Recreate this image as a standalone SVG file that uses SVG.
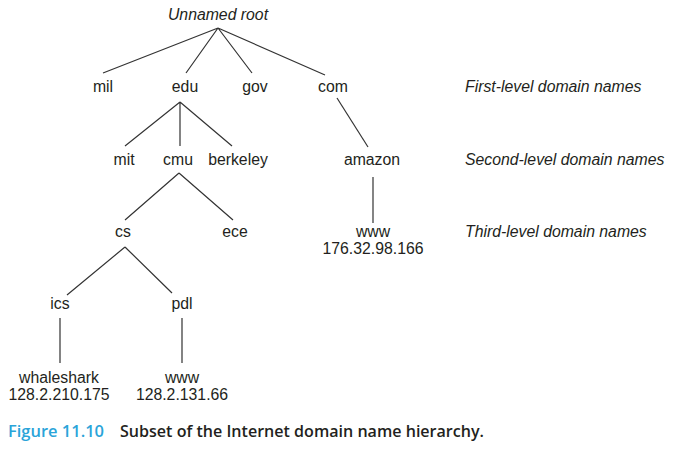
<svg xmlns="http://www.w3.org/2000/svg" width="678" height="449" viewBox="0 0 678 449">
<style>
.n{font-family:"Liberation Sans",Arial,sans-serif;font-size:15.8px;fill:#231f20;text-anchor:middle}
.i{font-family:"Liberation Sans",Arial,sans-serif;font-size:15.8px;fill:#231f20;font-style:italic}
.c{stroke:#333;stroke-width:1.2;fill:none}
.cap{font-family:"Open Sans","Liberation Sans",sans-serif;font-size:17px;font-weight:600}
</style>
<rect width="678" height="449" fill="#fff"/>
<g id="connectors">
<path class="c" d="M218,28L103,73M218,28L186,73M218,28L252,73M218,28L325,75"/>
<path class="c" d="M180,102L125,146M180,102L180,146M180,102L232,146"/>
<path class="c" d="M337,98L368,147"/>
<path class="c" d="M179,173L125,220M179,173L233,220"/>
<path class="c" d="M373,177L373,223"/>
<path class="c" d="M125,247L67,295M125,247L172,293"/>
<path class="c" d="M60,318L60,363M182,318L182,363"/>
</g>
<g id="root"><text class="i" x="218" y="20" text-anchor="middle">Unnamed root</text></g>
<g id="mil"><text class="n" x="103" y="92">mil</text></g>
<g id="edu"><text class="n" x="185" y="92">edu</text></g>
<g id="gov"><text class="n" x="255" y="92">gov</text></g>
<g id="com"><text class="n" x="333" y="92">com</text></g>
<g id="mit"><text class="n" x="124" y="165">mit</text></g>
<g id="cmu"><text class="n" x="178" y="165">cmu</text></g>
<g id="berkeley"><text class="n" x="238" y="165">berkeley</text></g>
<g id="amazon"><text class="n" x="372" y="165">amazon</text></g>
<g id="cs"><text class="n" x="123" y="237">cs</text></g>
<g id="ece"><text class="n" x="235" y="237">ece</text></g>
<g id="www-amazon"><text class="n" x="373" y="237">www</text><text class="n" x="373" y="254">176.32.98.166</text></g>
<g id="ics"><text class="n" x="60" y="309">ics</text></g>
<g id="pdl"><text class="n" x="182" y="309">pdl</text></g>
<g id="whaleshark"><text class="n" x="59" y="383">whaleshark</text><text class="n" x="59" y="400">128.2.210.175</text></g>
<g id="www-pdl"><text class="n" x="182" y="383">www</text><text class="n" x="182" y="400">128.2.131.66</text></g>
<g id="levels">
<text class="i" x="465" y="92">First-level domain names</text>
<text class="i" x="465" y="165">Second-level domain names</text>
<text class="i" x="465" y="237">Third-level domain names</text>
</g>
<g id="caption">
<text class="cap" x="8" y="437" fill="#2aa4d9" textLength="96" lengthAdjust="spacingAndGlyphs">Figure 11.10</text>
<text class="cap" x="120" y="437" fill="#231f20" textLength="364" lengthAdjust="spacingAndGlyphs">Subset of the Internet domain name hierarchy.</text>
</g>
</svg>
